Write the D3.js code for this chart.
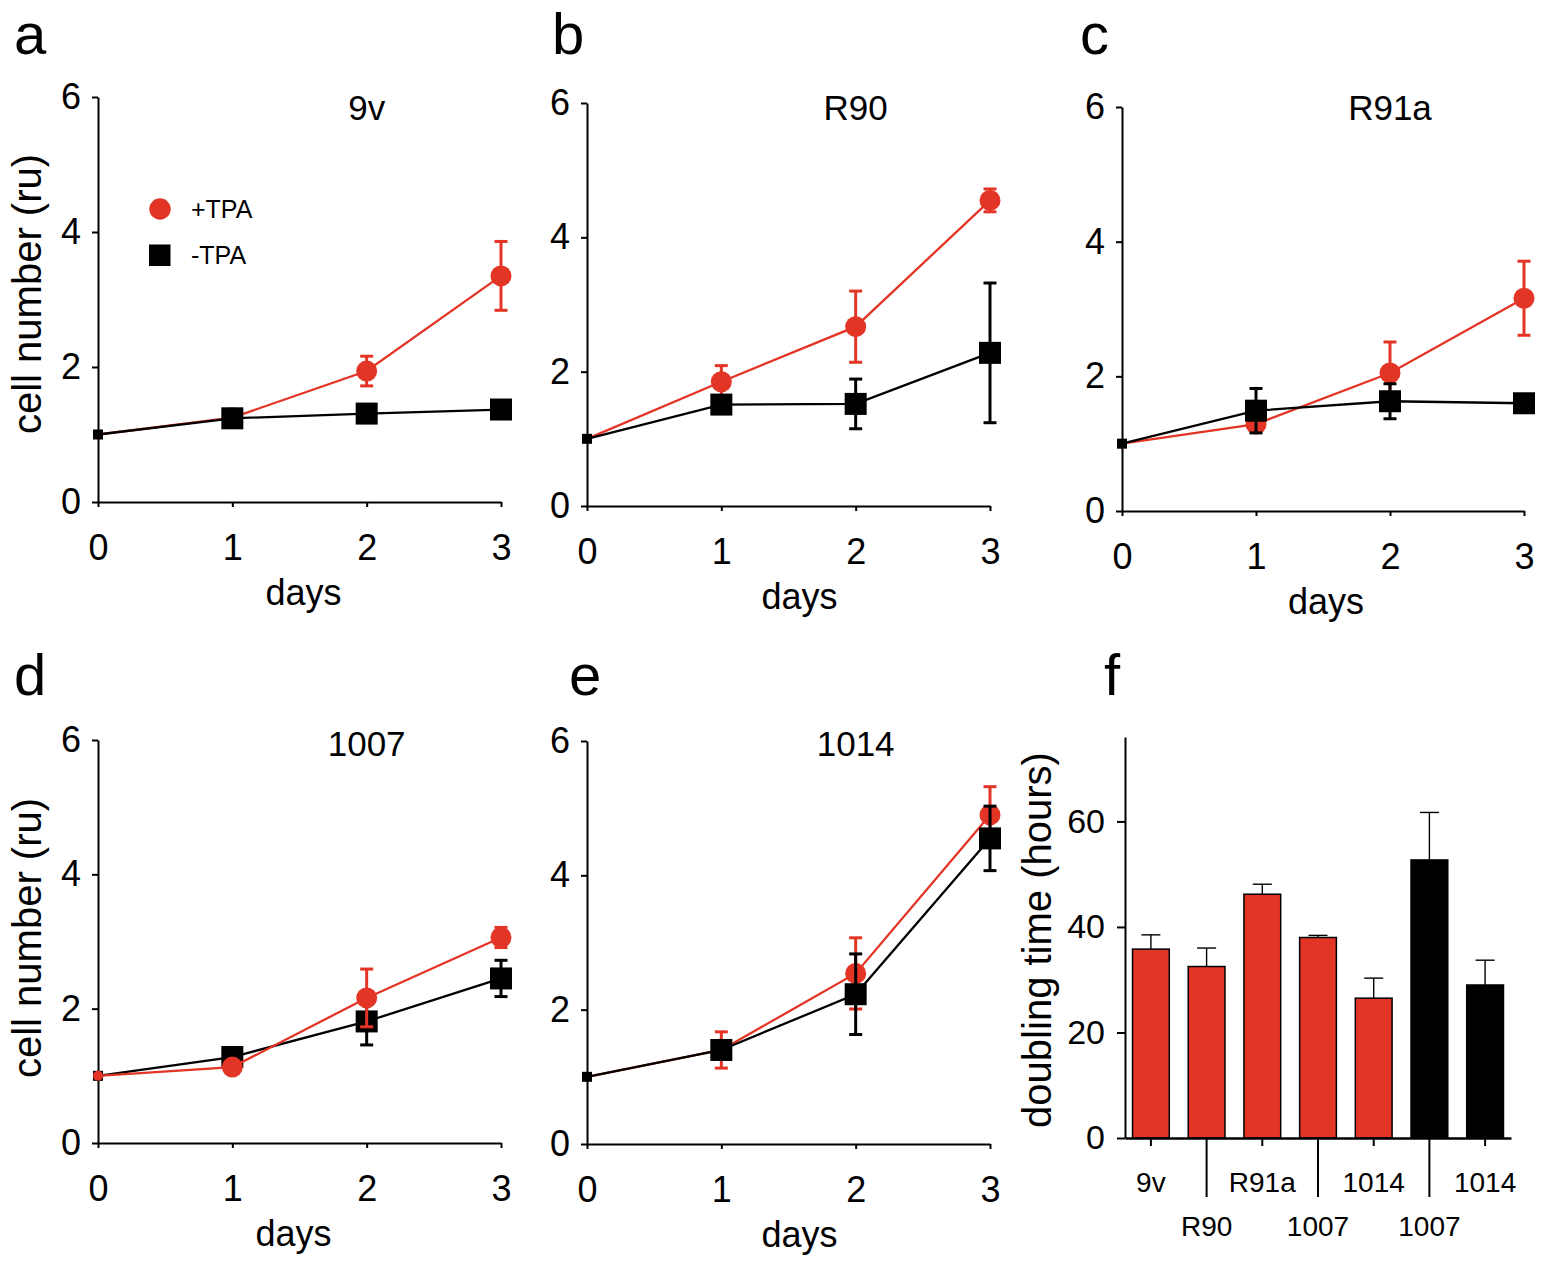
<!DOCTYPE html>
<html><head><meta charset="utf-8">
<script src="https://cdn.jsdelivr.net/npm/d3@7"></script>
<style>
body{margin:0;background:#fff;}
svg text{font-family:"Liberation Sans", Arial, Helvetica, sans-serif;fill:#000;}
</style></head><body>
<svg id="fig" width="1543" height="1270"></svg>
<script>
// ---------- data ----------
const days = [0, 1, 2, 3];
const growthTicks = [0, 2, 4, 6];
const cellLines = ["9v", "R90", "R91a", "1007", "1014"];
const seriesNames = ["+TPA", "-TPA"];

const plus9v     = [1.00, 1.25, 1.94, 3.35];
const plus9vErr  = [0, 0.03, 0.22, 0.51];
const minus9v    = [1.00, 1.24, 1.31, 1.37];
const minus9vErr = [0, 0.02, 0.02, 0.02];

const plusR90     = [1.00, 1.85, 2.67, 4.55];
const plusR90Err  = [0, 0.24, 0.53, 0.17];
const minusR90    = [1.00, 1.51, 1.52, 2.28];
const minusR90Err = [0, 0.12, 0.37, 1.04];

const plusR91a     = [1.00, 1.29, 2.05, 3.16];
const plusR91aErr  = [0, 0.04, 0.46, 0.55];
const minusR91a    = [1.00, 1.49, 1.63, 1.60];
const minusR91aErr = [0, 0.33, 0.26, 0.02];

const plus1007     = [1.00, 1.13, 2.16, 3.06];
const plus1007Err  = [0, 0.04, 0.43, 0.15];
const minus1007    = [1.00, 1.28, 1.81, 2.45];
const minus1007Err = [0, 0.11, 0.35, 0.27];

const plus1014     = [1.00, 1.40, 2.54, 4.90];
const plus1014Err  = [0, 0.27, 0.53, 0.42];
const minus1014    = [1.00, 1.40, 2.23, 4.55];
const minus1014Err = [0, 0.08, 0.60, 0.48];

const barLabels     = ["9v", "R90", "R91a", "1007", "1014", "1007", "1014"];
const barTreatment  = ["+TPA", "+TPA", "+TPA", "+TPA", "+TPA", "-TPA", "-TPA"];
const doublingTime  = [35.8, 32.5, 46.2, 38.0, 26.5, 52.7, 29.0];
const doublingErr   = [2.7, 3.5, 1.9, 0.4, 3.8, 9.0, 4.7];
const doublingTicks = [0, 20, 40, 60];

// ---------- style / layout ----------
const RED = "#e33526", BLACK = "#000";
const FONT_TICK = 36, FONT_LABEL = 40;

const panelData = [
  {name: cellLines[0], plus: plus9v,   plusErr: plus9vErr,   minus: minus9v,   minusErr: minus9vErr},
  {name: cellLines[1], plus: plusR90,  plusErr: plusR90Err,  minus: minusR90,  minusErr: minusR90Err},
  {name: cellLines[2], plus: plusR91a, plusErr: plusR91aErr, minus: minusR91a, minusErr: minusR91aErr},
  {name: cellLines[3], plus: plus1007, plusErr: plus1007Err, minus: minus1007, minusErr: minus1007Err},
  {name: cellLines[4], plus: plus1014, plusErr: plus1014Err, minus: minus1014, minusErr: minus1014Err}
];
const panelLayout = [
  {x0: 98,   x1: 501,  y0: 502,  y1: 97,  letter: "a", lx: 14,   ly: 54,  titleY: 120, yLabelY: 294, redOnTop: false, daysDx: 4},
  {x0: 587,  x1: 990,  y0: 506,  y1: 103, letter: "b", lx: 552,  ly: 54,  titleY: 120, yLabelY: null, redOnTop: false, daysDx: 11},
  {x0: 1122, x1: 1524, y0: 511,  y1: 107, letter: "c", lx: 1080, ly: 54,  titleY: 120, yLabelY: null, redOnTop: false, daysDx: 3},
  {x0: 98,   x1: 501,  y0: 1143, y1: 740, letter: "d", lx: 14,   ly: 695, titleY: 756, yLabelY: 938, redOnTop: true,  daysDx: -6},
  {x0: 587,  x1: 990,  y0: 1144, y1: 741, letter: "e", lx: 569,  ly: 695, titleY: 756, yLabelY: null, redOnTop: false, daysDx: 11}
];

const svg = d3.select("#fig");
svg.append("rect").attr("width", 1543).attr("height", 1270).attr("fill", "#fff");

function styleAxis(g, width) {
  g.selectAll("path.domain").attr("stroke", "#000").attr("stroke-width", width);
  g.selectAll(".tick line").attr("stroke", "#000").attr("stroke-width", width);
  g.selectAll(".tick text").attr("font-family", "Liberation Sans, Arial, sans-serif").attr("fill", "#000");
}

function drawSeries(g, x, y, vals, errs, color, shape) {
  const sg = g.append("g");
  const line = d3.line().x((d, i) => x(days[i])).y(d => y(d));
  sg.append("path").datum(vals).attr("d", line)
    .attr("fill", "none").attr("stroke", color).attr("stroke-width", 2.3);
  const ebData = vals.map((v, i) => ({x: days[i], v: v, e: errs[i]})).filter(d => d.e > 0);
  const eb = sg.append("g").attr("stroke", color).attr("stroke-width", 3);
  eb.selectAll("line.v").data(ebData).join("line").attr("class", "v")
    .attr("x1", d => x(d.x)).attr("x2", d => x(d.x))
    .attr("y1", d => y(d.v + d.e)).attr("y2", d => y(d.v - d.e));
  eb.selectAll("line.t").data(ebData).join("line").attr("class", "t")
    .attr("x1", d => x(d.x) - 6.5).attr("x2", d => x(d.x) + 6.5)
    .attr("y1", d => y(d.v + d.e)).attr("y2", d => y(d.v + d.e));
  eb.selectAll("line.b").data(ebData).join("line").attr("class", "b")
    .attr("x1", d => x(d.x) - 6.5).attr("x2", d => x(d.x) + 6.5)
    .attr("y1", d => y(d.v - d.e)).attr("y2", d => y(d.v - d.e));
  if (shape === "circle") {
    sg.selectAll("circle").data(vals).join("circle")
      .attr("cx", (d, i) => x(days[i])).attr("cy", d => y(d))
      .attr("r", (d, i) => i === 0 ? 5 : 10.5).attr("fill", color);
  } else {
    sg.selectAll("rect").data(vals).join("rect")
      .attr("x", (d, i) => x(days[i]) - (i === 0 ? 5 : 11))
      .attr("y", (d, i) => y(d) - (i === 0 ? 5 : 11))
      .attr("width", (d, i) => i === 0 ? 10 : 22)
      .attr("height", (d, i) => i === 0 ? 10 : 22)
      .attr("fill", color);
  }
}

panelData.forEach((p, k) => {
  const L = panelLayout[k];
  const x = d3.scaleLinear().domain([0, 3]).range([L.x0, L.x1]);
  const y = d3.scaleLinear().domain([0, 6]).range([L.y0, L.y1]);
  const g = svg.append("g");

  // axes
  const gx = g.append("g").attr("transform", `translate(0,${L.y0})`)
    .call(d3.axisBottom(x).tickValues(days).tickFormat(d3.format("d"))
      .tickSize(5).tickPadding(27).tickSizeOuter(0));
  gx.selectAll(".tick text").attr("font-size", FONT_TICK);
  styleAxis(gx, 2);
  const gy = g.append("g").attr("transform", `translate(${L.x0},0)`)
    .call(d3.axisLeft(y).tickValues(growthTicks).tickFormat(d3.format("d"))
      .tickSize(6).tickPadding(11).tickSizeOuter(0));
  gy.selectAll(".tick text").attr("font-size", FONT_TICK);
  styleAxis(gy, 2);

  // series
  if (L.redOnTop) {
    drawSeries(g, x, y, p.minus, p.minusErr, BLACK, "square");
    drawSeries(g, x, y, p.plus, p.plusErr, RED, "circle");
  } else {
    drawSeries(g, x, y, p.plus, p.plusErr, RED, "circle");
    drawSeries(g, x, y, p.minus, p.minusErr, BLACK, "square");
  }

  // texts
  g.append("text").attr("x", x(2)).attr("y", L.titleY).attr("text-anchor", "middle")
    .attr("font-size", 35).text(p.name);
  g.append("text").attr("x", (L.x0 + L.x1) / 2 + L.daysDx).attr("y", L.y0 + 103)
    .attr("text-anchor", "middle").attr("font-size", FONT_TICK).text("days");
  g.append("text").attr("x", L.lx).attr("y", L.ly).attr("font-size", 58).text(L.letter);
  if (L.yLabelY !== null) {
    g.append("text").attr("transform", `translate(41,${L.yLabelY}) rotate(-90)`)
      .attr("text-anchor", "middle").attr("font-size", FONT_LABEL).text("cell number (ru)");
  }
});

// legend (panel a)
const leg = svg.append("g");
leg.append("circle").attr("cx", 160).attr("cy", 209).attr("r", 10.7).attr("fill", RED);
leg.append("rect").attr("x", 149).attr("y", 244.5).attr("width", 21.5).attr("height", 21.5).attr("fill", BLACK);
leg.append("text").attr("x", 191).attr("y", 218).attr("font-size", 25).text(seriesNames[0]);
leg.append("text").attr("x", 191).attr("y", 264).attr("font-size", 25).text(seriesNames[1]);

// ---------- panel f ----------
const xF = d3.scaleBand().domain(d3.range(barLabels.length)).range([1125, 1511])
  .paddingInner(0.34).paddingOuter(0.135);
const yF = d3.scaleLinear().domain([0, 76]).range([1138, 737]);
const gf = svg.append("g");

gf.selectAll("rect.bar").data(doublingTime).join("rect").attr("class", "bar")
  .attr("x", (d, i) => xF(i)).attr("width", xF.bandwidth())
  .attr("y", d => yF(d)).attr("height", d => yF(0) - yF(d))
  .attr("fill", (d, i) => barTreatment[i] === "+TPA" ? RED : BLACK)
  .attr("stroke", "#000").attr("stroke-width", 1.5);

const ebF = gf.append("g").attr("stroke", "#000").attr("stroke-width", 1.4);
ebF.selectAll("line.v").data(doublingTime).join("line").attr("class", "v")
  .attr("x1", (d, i) => xF(i) + xF.bandwidth() / 2).attr("x2", (d, i) => xF(i) + xF.bandwidth() / 2)
  .attr("y1", d => yF(d)).attr("y2", (d, i) => yF(d + doublingErr[i]));
ebF.selectAll("line.c").data(doublingTime).join("line").attr("class", "c")
  .attr("x1", (d, i) => xF(i) + xF.bandwidth() / 2 - 9.5).attr("x2", (d, i) => xF(i) + xF.bandwidth() / 2 + 9.5)
  .attr("y1", (d, i) => yF(d + doublingErr[i])).attr("y2", (d, i) => yF(d + doublingErr[i]));

const gfy = gf.append("g").attr("transform", "translate(1125,0)")
  .call(d3.axisLeft(yF).tickValues(doublingTicks).tickSize(8).tickPadding(12).tickSizeOuter(0));
gfy.selectAll(".tick text").attr("font-size", 34);
styleAxis(gfy, 2);

const gfx = gf.append("g").attr("transform", "translate(0,1138)")
  .call(d3.axisBottom(xF).tickValues([]).tickSizeOuter(0));
styleAxis(gfx, 2.5);

gf.selectAll("line.xt").data(barLabels).join("line").attr("class", "xt")
  .attr("x1", (d, i) => xF(i) + xF.bandwidth() / 2).attr("x2", (d, i) => xF(i) + xF.bandwidth() / 2)
  .attr("y1", 1138).attr("y2", (d, i) => i % 2 === 0 ? 1146 : 1197)
  .attr("stroke", "#000").attr("stroke-width", 2);
gf.selectAll("text.xl").data(barLabels).join("text").attr("class", "xl")
  .attr("x", (d, i) => xF(i) + xF.bandwidth() / 2)
  .attr("y", (d, i) => i % 2 === 0 ? 1191.5 : 1236)
  .attr("text-anchor", "middle").attr("font-size", 28).text(d => d);

gf.append("text").attr("transform", "translate(1051,940) rotate(-90)")
  .attr("text-anchor", "middle").attr("font-size", FONT_LABEL).text("doubling time (hours)");
gf.append("text").attr("x", 1104).attr("y", 695).attr("font-size", 58).text("f");
</script>
</body></html>
